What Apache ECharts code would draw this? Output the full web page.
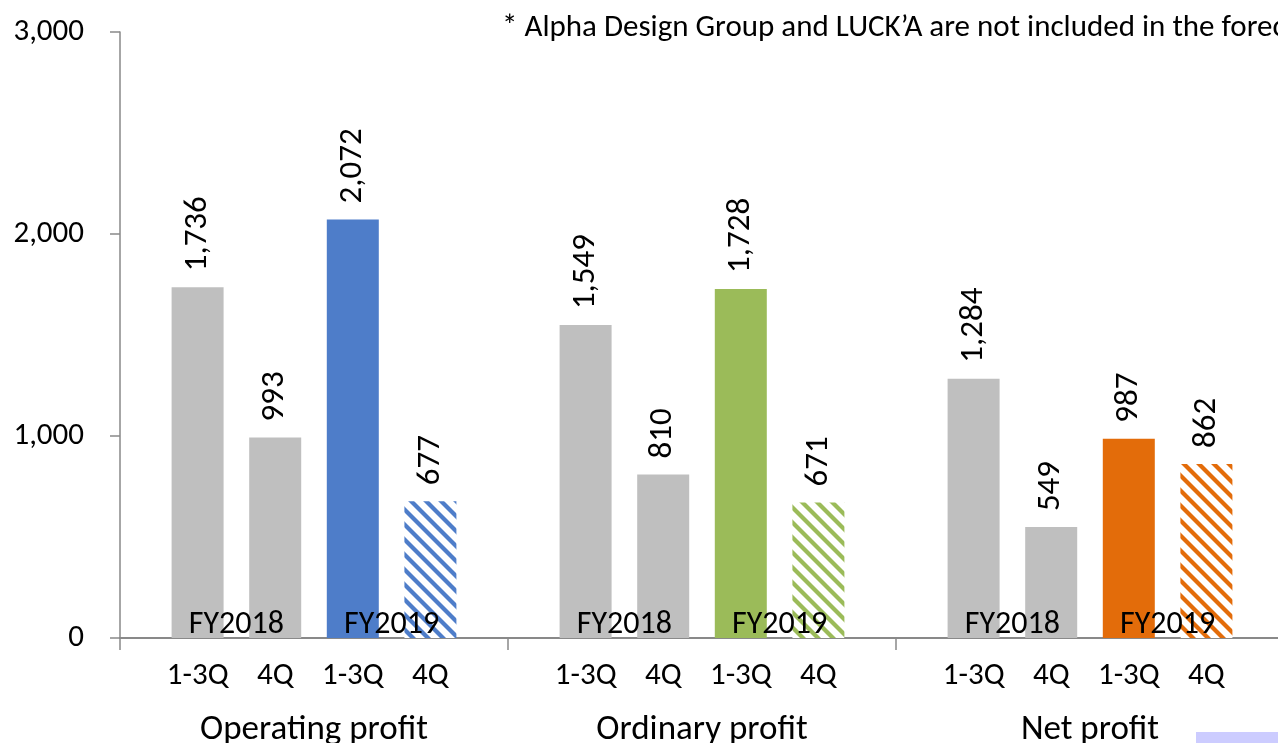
<!DOCTYPE html>
<html>
<head>
<meta charset="utf-8">
<script src="https://cdn.jsdelivr.net/npm/echarts@6/dist/echarts.min.js"></script>
<style>
  html, body { margin: 0; padding: 0; background: #fff; }
  #chart { width: 1278px; height: 743px; }
</style>
</head>
<body>
<div id="chart"></div>
<script>
// Profit results by half, FY2018 vs FY2019 (1-3Q actual, 4Q)
const groupNames = ['Operating profit', 'Ordinary profit', 'Net profit'];
const periodLabels = ['1-3Q', '4Q', '1-3Q', '4Q'];
const yearLabels = ['FY2018', 'FY2019'];
const fy2018Q1to3 = [1736, 1549, 1284];
const fy2018Q4 = [993, 810, 549];
const fy2019Q1to3 = [2072, 1728, 987];
const fy2019Q4 = [677, 671, 862];
const yTicks = [0, 1000, 2000, 3000];
const note = '* Alpha Design Group and LUCK\u2019A are not included in the forecast.';

const FONT = 'Carlito, Lato, sans-serif';
const GRAY = '#BFBFBF';
const groupColors = ['#4E7DC9', '#9BBB59', '#E36C0A'];
const AXIS = '#898989';

// Diagonal hatch used for the FY2019 4Q bars
function hatch(color) {
  const s = 15;
  const c = document.createElement('canvas');
  c.width = s; c.height = s;
  const g = c.getContext('2d');
  g.fillStyle = '#fff';
  g.fillRect(0, 0, s, s);
  g.strokeStyle = color;
  g.lineWidth = 4.2;
  for (const off of [-s, 0, s]) {
    g.beginPath();
    g.moveTo(-2, off - 2);
    g.lineTo(s + 2, s + off + 2);
    g.stroke();
  }
  return { image: c, repeat: 'repeat' };
}

// 16 slots per axis: a blank slot between groups, four bars per group
const SLOTS = 16;
const slotLabels = [];
const barData = [];
for (let i = 0; i < SLOTS; i++) { slotLabels.push(''); barData.push('-'); }
const yearLabelData = [];
groupNames.forEach((name, g) => {
  const base = g * 5 + 1;
  const vals = [fy2018Q1to3[g], fy2018Q4[g], fy2019Q1to3[g], fy2019Q4[g]];
  const colors = [GRAY, GRAY, groupColors[g], hatch(groupColors[g])];
  vals.forEach((v, p) => {
    slotLabels[base + p] = periodLabels[p];
    barData[base + p] = { value: v, itemStyle: { color: colors[p] } };
  });
  yearLabelData.push({ value: [base + 0.5, 0], name: yearLabels[0] });
  yearLabelData.push({ value: [base + 2.5, 0], name: yearLabels[1] });
});
const slotIndex = slotLabels.map((_, i) => String(i));

const chart = echarts.init(document.getElementById('chart'));
chart.setOption({
  animation: false,
  textStyle: { fontFamily: FONT },
  grid: {
    left: 120, top: 32, width: 1164, height: 606,
    containLabel: false, outerBoundsMode: 'none'
  },
  xAxis: [
    {
      type: 'category',
      data: slotIndex,
      boundaryGap: false,
      axisLine: { lineStyle: { color: AXIS, width: 2 } },
      axisTick: {
        length: 12,
        interval: (i) => i % 5 === 0,
        lineStyle: { color: AXIS, width: 1.5 }
      },
      axisLabel: {
        interval: 0,
        margin: 23,
        fontSize: 31,
        color: '#000',
        fontFamily: FONT,
        formatter: (v) => slotLabels[+v]
      },
      splitLine: { show: false }
    },
    {
      type: 'category',
      data: groupNames,
      position: 'bottom',
      boundaryGap: true,
      axisLine: { show: false },
      axisTick: { show: false },
      axisLabel: { margin: 75, fontSize: 35, color: '#000', fontFamily: FONT },
      splitLine: { show: false }
    },
    {
      type: 'value',
      min: 0,
      max: SLOTS - 1,
      show: false
    }
  ],
  yAxis: {
    type: 'value',
    min: 0,
    max: 3000,
    interval: 1000,
    axisLine: { show: true, lineStyle: { color: AXIS, width: 1.5 } },
    axisTick: { show: true, length: 10, lineStyle: { color: AXIS, width: 1.5 } },
    axisLabel: {
      margin: 36,
      fontSize: 31,
      color: '#000',
      fontFamily: FONT,
      formatter: (v) => yTicks.includes(v) ? v.toLocaleString('en-US') : ''
    },
    splitLine: { show: false }
  },
  series: [
    {
      type: 'bar',
      xAxisIndex: 0,
      data: barData,
      barWidth: 52,
      label: {
        show: true,
        position: 'top',
        rotate: 90,
        align: 'left',
        verticalAlign: 'middle',
        distance: 16,
        fontSize: 33,
        color: '#000',
        fontFamily: FONT,
        formatter: (p) => p.value.toLocaleString('en-US')
      }
    },
    {
      type: 'scatter',
      xAxisIndex: 2,
      data: yearLabelData,
      symbolSize: 0,
      z: 10,
      itemStyle: { opacity: 1 },
      label: {
        show: true,
        position: 'top',
        distance: -3,
        fontSize: 32,
        color: '#000',
        opacity: 1,
        textBorderWidth: 0,
        fontFamily: FONT,
        formatter: (p) => p.name
      }
    }
  ],
  graphic: [
    {
      type: 'text',
      left: 502,
      top: 13,
      style: { text: note, font: '31px ' + FONT, fill: '#000' }
    },
    {
      type: 'rect',
      shape: { x: 1196, y: 732, width: 90, height: 12 },
      style: { fill: '#CCCCFF' }
    }
  ]
});
</script>
</body>
</html>
